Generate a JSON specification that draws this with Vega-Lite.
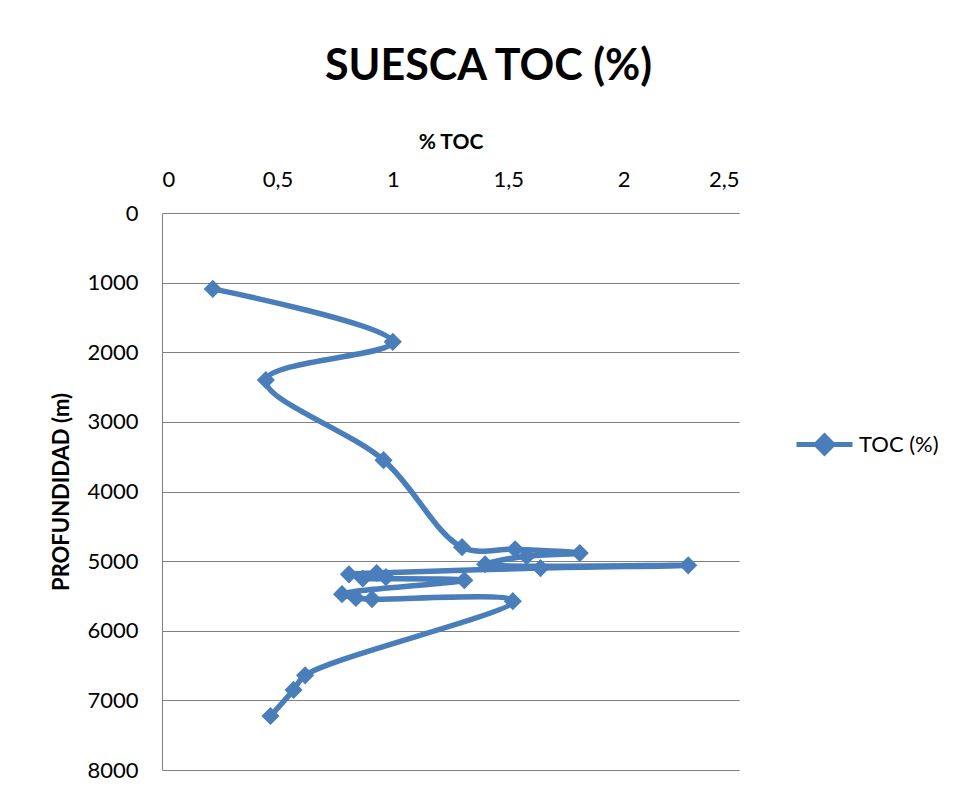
{
  "$schema": "https://vega.github.io/schema/vega-lite/v6.json",
  "width": 577,
  "height": 557,
  "autosize": {"type": "none"},
  "padding": {"left": 162, "top": 213, "right": 217, "bottom": 25},
  "background": "white",
  "config": {
    "font": "Lato",
    "view": {"stroke": null}
  },
  "title": {
    "text": "SUESCA TOC (%)",
    "anchor": "middle",
    "dx": 38,
    "offset": 42,
    "fontSize": 43,
    "fontWeight": "bold",
    "font": "Lato",
    "color": "#000000"
  },
  "data": {
    "values": [
      {"toc": 0.22, "depth": 1090},
      {"toc": 1.00, "depth": 1850},
      {"toc": 0.45, "depth": 2400},
      {"toc": 0.96, "depth": 3550},
      {"toc": 1.30, "depth": 4800},
      {"toc": 1.53, "depth": 4830},
      {"toc": 1.81, "depth": 4885},
      {"toc": 1.58, "depth": 4930},
      {"toc": 1.40, "depth": 5045},
      {"toc": 2.28, "depth": 5060},
      {"toc": 1.64, "depth": 5100},
      {"toc": 0.93, "depth": 5170},
      {"toc": 0.81, "depth": 5190},
      {"toc": 0.97, "depth": 5230},
      {"toc": 0.87, "depth": 5250},
      {"toc": 1.31, "depth": 5275},
      {"toc": 0.78, "depth": 5475},
      {"toc": 0.84, "depth": 5530},
      {"toc": 0.91, "depth": 5545},
      {"toc": 1.52, "depth": 5575},
      {"toc": 0.62, "depth": 6640},
      {"toc": 0.57, "depth": 6850},
      {"toc": 0.47, "depth": 7225}
    ]
  },
  "encoding": {
    "x": {
      "field": "toc",
      "type": "quantitative",
      "scale": {"domain": [0, 2.5], "nice": false, "zero": false},
      "axis": {
        "orient": "top",
        "title": "% TOC",
        "titleFontSize": 21,
        "titleFontWeight": "bold",
        "titleColor": "#000000",
        "titlePadding": 16,
        "values": [0, 0.5, 1, 1.5, 2, 2.5],
        "labelExpr": "replace(format(datum.value, '~g'), '.', ',')",
        "labelFontSize": 22,
        "labelColor": "#000000",
        "labelPadding": 22,
        "ticks": false,
        "domain": false,
        "grid": false
      }
    },
    "y": {
      "field": "depth",
      "type": "quantitative",
      "scale": {"domain": [0, 8000], "reverse": true, "nice": false},
      "axis": {
        "title": "PROFUNDIDAD (m)",
        "titleFontSize": 22,
        "titleFontWeight": "bold",
        "titleColor": "#000000",
        "titlePadding": 13,
        "values": [0, 1000, 2000, 3000, 4000, 5000, 6000, 7000, 8000],
        "format": "d",
        "labelFontSize": 22,
        "labelColor": "#000000",
        "labelPadding": 24,
        "ticks": false,
        "domain": true,
        "domainColor": "#7f7f7f",
        "domainWidth": 1,
        "grid": true,
        "gridColor": "#7f7f7f",
        "gridWidth": 1
      }
    },
    "order": {"field": "depth", "type": "quantitative"},
    "color": {
      "datum": "TOC (%)",
      "type": "nominal",
      "scale": {"range": ["#4a7ebb"]},
      "legend": {
        "title": null,
        "orient": "none",
        "legendX": 632,
        "legendY": 201,
        "symbolType": "M-1,0H1M0,-0.3L0.3,0L0,0.3L-0.3,0Z",
        "symbolSize": 3136,
        "symbolStrokeWidth": 5,
        "symbolFillColor": "#4a7ebb",
        "symbolStrokeColor": "#4a7ebb",
        "labelFontSize": 22,
        "labelColor": "#000000",
        "labelOffset": 4
      }
    }
  },
  "layer": [
    {
      "mark": {"type": "line", "interpolate": "catmull-rom", "strokeWidth": 5.5, "strokeCap": "round", "strokeJoin": "round"}
    },
    {
      "mark": {"type": "point", "shape": "diamond", "filled": true, "size": 330, "opacity": 1}
    }
  ]
}
